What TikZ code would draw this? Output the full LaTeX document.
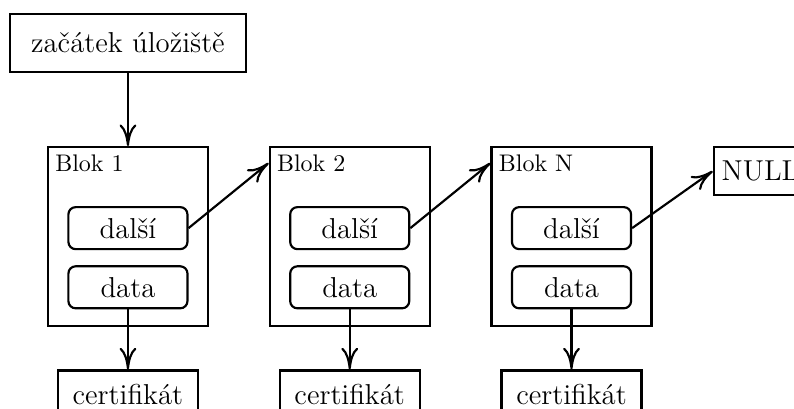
\documentclass[tikz,border=0pt]{standalone}
\usetikzlibrary{positioning,arrows.meta}
\begin{document}
\begin{tikzpicture}[every node/.style={font=\large},
      box/.style={draw,line width=0.9pt,minimum height=20pt,minimum width=58.3pt},
      blok/.style={draw,line width=0.9pt,minimum width=66.7pt,minimum height=74.6pt},
      pole/.style={draw,line width=0.9pt,rounded corners=3pt,minimum width=49.6pt,minimum height=17.5pt},
      nadpis/.style={font=\normalsize,anchor=north west},
      sip/.style={-{To[length=9pt,width=7pt]},line width=0.9pt}]
    \clip (0,0) rectangle (330.8pt,-170pt);
    \node[box,minimum width=98.3pt,minimum height=24.2pt] (start) at (53.3pt,-17.9pt) {začátek úložiště};
    \node[blok,below=30.4pt of start] (b1) {};
    \node[blok,right=24.8pt of b1] (b2) {};
    \node[blok,right=24.8pt of b2] (bN) {};
    \node[nadpis] (l1) at (b1.north west) {Blok 1};
    \node[nadpis] (l2) at (b2.north west) {Blok 2};
    \node[nadpis] (lN) at (bN.north west) {Blok N};
    \node[pole,below=25pt of b1.north] (d1) {další};
    \node[pole,below=6.25pt of d1] (x1) {data};
    \node[pole,below=25pt of b2.north] (d2) {další};
    \node[pole,below=6.25pt of d2] (x2) {data};
    \node[pole,below=25pt of bN.north] (dN) {další};
    \node[pole,below=6.25pt of dN] (xN) {data};
    \node[box,below=25pt of x1] (c1) {certifikát};
    \node[box,below=25pt of x2] (c2) {certifikát};
    \node[box,below=25pt of xN] (cN) {certifikát};
    \node[box,minimum width=0pt,right=25pt of bN.north east,anchor=north west] (null) {NULL};
    \draw[sip] (start) -- (b1);
    \draw[sip] (d1.east) -- (l2.west); \draw[sip] (d2.east) -- (lN.west);
    \draw[sip] (dN.east) -- (null.west);
    \draw[sip] (x1) -- (c1); \draw[sip] (x2) -- (c2); \draw[sip] (xN) -- (cN);
  \end{tikzpicture}
\end{document}
